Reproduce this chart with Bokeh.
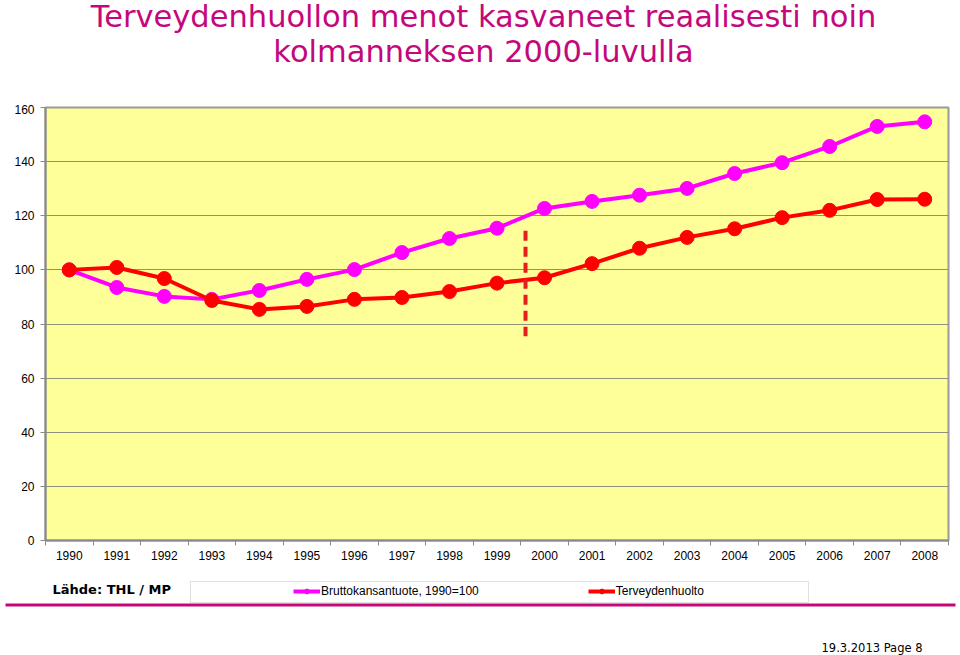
from bokeh.plotting import figure
from bokeh.layouts import column, row
from bokeh.models import (Label, BoxAnnotation, Legend, LegendItem, FixedTicker,
                          Range1d, ColumnDataSource)
from bokeh.embed import file_html
from bokeh.resources import INLINE

# ---- data ----
years = [str(y) for y in range(1990, 2009)]
bkt = [100.0, 93.5, 90.2, 89.1, 92.4, 96.5, 100.1, 106.4, 111.6, 115.4, 122.7,
       125.3, 127.6, 130.1, 135.6, 139.6, 145.6, 153.0, 154.7]
terv = [100.0, 100.9, 96.8, 88.7, 85.4, 86.5, 89.1, 89.8, 92.0, 95.1, 97.1,
        102.3, 108.0, 112.0, 115.2, 119.3, 122.0, 126.0, 126.1]
y_ticks = [0, 20, 40, 60, 80, 100, 120, 140, 160]
divider_x = [10.1, 10.1]
divider_y = [114.5, 75.5]

title1 = "Terveydenhuollon menot kasvaneet reaalisesti noin"
title2 = "kolmanneksen 2000-luvulla"
source_txt = "Lähde: THL / MP"
footer_txt = "19.3.2013  Page 8"
name_bkt = "Bruttokansantuote, 1990=100"
name_terv = "Terveydenhuolto"

MAG = "#C4087C"
PINK = "#FF00FF"
RED = "#FF0000"
W = 960
NAN = float("nan")


def blank_fig(height, y_top, y_bottom):
    f = figure(width=W, height=height, output_backend="svg", toolbar_location=None,
               title=None,
               x_range=Range1d(0, W), y_range=Range1d(y_bottom, y_top),
               min_border=0, min_border_left=0, min_border_right=0,
               min_border_top=0, min_border_bottom=0)
    f.axis.visible = False
    f.grid.visible = False
    f.outline_line_color = None
    f.background_fill_color = "white"
    f.border_fill_color = "white"
    return f


# ---- title figure (canvas y 0..104) ----
top = blank_fig(104, 0, 104)
top.add_layout(Label(x=483, y=16, text=title1, text_align="center",
                     text_baseline="alphabetic", text_font="DejaVu Sans",
                     text_font_size="30.5px", text_color=MAG))
top.add_layout(Label(x=483, y=51, text=title2, text_align="center",
                     text_baseline="alphabetic", text_font="DejaVu Sans",
                     text_font_size="30.5px", text_color=MAG))

# ---- main chart ----
xs = [i + 0.5 for i in range(len(years))]
p = figure(width=W, height=471, output_backend="svg", toolbar_location=None,
           title=None,
           x_range=Range1d(0, len(years)), y_range=Range1d(0, 160),
           min_border_left=45, min_border_right=12, min_border_top=3,
           min_border_bottom=35)
p.background_fill_color = "#FFFF99"
p.border_fill_color = "white"
p.outline_line_color = "#9a9a9a"
p.outline_line_width = 2

p.xgrid.visible = False
p.ygrid.ticker = FixedTicker(ticks=y_ticks)
p.ygrid.grid_line_color = "#8f8f80"
p.ygrid.grid_line_width = 1

xa = p.xaxis[0]
xa.ticker = FixedTicker(ticks=xs, minor_ticks=list(range(len(years) + 1)))
xa.major_label_overrides = {x: y for x, y in zip(xs, years)}
xa.major_tick_out = 0
xa.major_tick_in = 0
xa.minor_tick_out = 5
xa.minor_tick_in = 0
xa.minor_tick_line_color = "#8a8a8a"
xa.axis_line_color = "#8a8a8a"
xa.axis_line_width = 2
xa.major_label_text_font = "Liberation Sans"
xa.major_label_text_font_size = "12px"
xa.major_label_text_color = "black"
xa.major_label_standoff = 5

ya = p.yaxis[0]
ya.ticker = FixedTicker(ticks=y_ticks)
ya.major_tick_out = 5
ya.major_tick_in = 0
ya.minor_tick_line_color = None
ya.major_tick_line_color = "#8a8a8a"
ya.axis_line_color = "#8a8a8a"
ya.axis_line_width = 2
ya.major_label_text_font = "Liberation Sans"
ya.major_label_text_font_size = "12px"
ya.major_label_text_color = "black"
ya.major_label_standoff = 6

src = ColumnDataSource(dict(x=xs, bkt=bkt, terv=terv))
p.line("x", "bkt", source=src, line_color=PINK, line_width=4)
p.scatter("x", "bkt", source=src, size=14, fill_color=PINK, line_color=PINK)
p.line("x", "terv", source=src, line_color=RED, line_width=4)
p.scatter("x", "terv", source=src, size=14, fill_color=RED, line_color=RED)
p.line(divider_x, divider_y, line_color="#E41E1E", line_width=4, line_dash="10 6")

# ---- footer figure (canvas y 575..655) ----
bot = blank_fig(80, 575, 655)
bot.add_layout(BoxAnnotation(left=190, right=808, top=581, bottom=602,
                             fill_color="white", fill_alpha=1,
                             line_color="#9a9a9a", line_width=1))
lg1 = bot.line([NAN], [NAN], line_color=PINK, line_width=4)
mk1 = bot.scatter([NAN], [NAN], size=8, fill_color=PINK, line_color=PINK)
lg2 = bot.line([NAN], [NAN], line_color=RED, line_width=4)
mk2 = bot.scatter([NAN], [NAN], size=8, fill_color=RED, line_color=RED)
legend = Legend(items=[LegendItem(label=name_bkt, renderers=[lg1, mk1]),
                       LegendItem(label=name_terv, renderers=[lg2, mk2])],
                orientation="horizontal", location=(293, 57),
                padding=2, margin=0, spacing=109,
                glyph_width=27, glyph_height=12, label_standoff=1,
                label_text_font="Liberation Sans", label_text_font_size="12px",
                label_text_color="black", border_line_color=None,
                background_fill_alpha=0)
bot.add_layout(legend, "center")

bot.add_layout(Label(x=52, y=589, text=source_txt, text_baseline="alphabetic",
                     text_font="DejaVu Sans", text_font_style="bold",
                     text_font_size="13px", text_color="black"))
bot.add_layout(BoxAnnotation(left=5, right=955, top=603, bottom=606,
                             fill_color=MAG, fill_alpha=1, line_color=None))
bot.add_layout(Label(x=821, y=647, text=footer_txt, text_baseline="alphabetic",
                     text_font="DejaVu Sans", text_font_size="11.5px",
                     text_color="black"))

layout = column(row(top), p, row(bot), spacing=0)
open("out.html", "w").write(file_html(layout, INLINE))
